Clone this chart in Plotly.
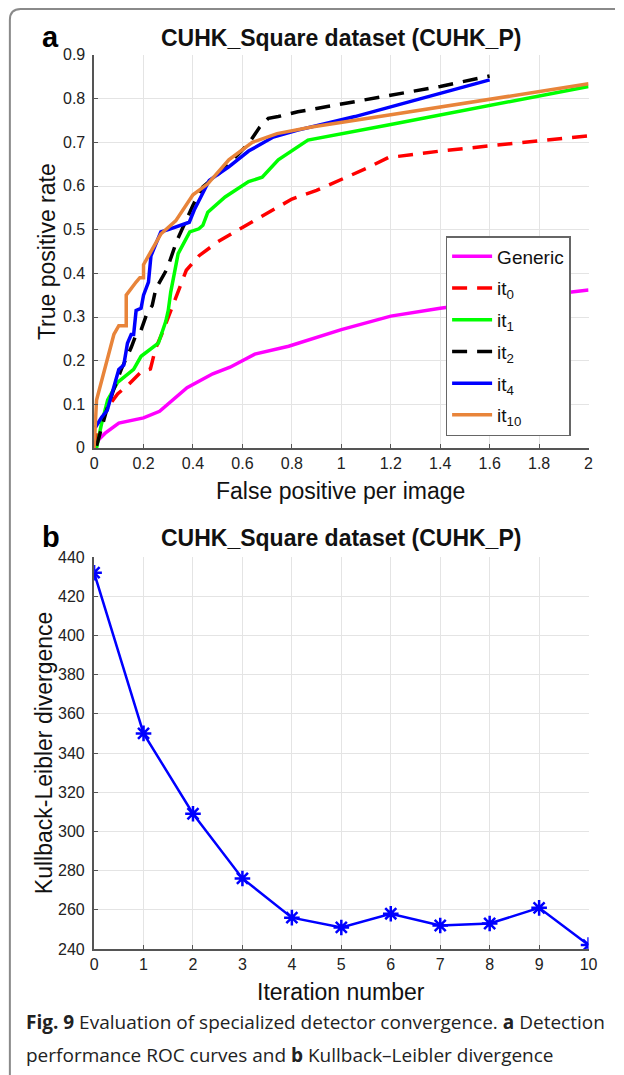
import plotly.graph_objects as go
from plotly.subplots import make_subplots

# ---------------- data ----------------
# panel a : ROC curves
generic_x = [0, 0.02, 0.045, 0.1, 0.2, 0.265, 0.376, 0.48, 0.55, 0.65, 0.787, 0.88, 1.0, 1.2, 1.4, 1.6, 1.8, 2.0]
generic_y = [0, 0.02, 0.034, 0.057, 0.069, 0.084, 0.138, 0.17, 0.185, 0.215, 0.233, 0.25, 0.271, 0.302, 0.32, 0.335, 0.348, 0.362]

it0_x = [0, 0.03, 0.055, 0.095, 0.135, 0.19, 0.228, 0.248, 0.274, 0.30, 0.347, 0.373, 0.426, 0.5, 0.6, 0.7, 0.8, 0.9, 1.0, 1.1, 1.19, 1.4, 1.6, 1.8, 2.0]
it0_y = [0, 0.063, 0.093, 0.124, 0.143, 0.174, 0.181, 0.227, 0.261, 0.30, 0.368, 0.407, 0.441, 0.472, 0.505, 0.537, 0.57, 0.59, 0.615, 0.64, 0.665, 0.68, 0.692, 0.703, 0.715]

it1_x = [0.01, 0.03, 0.055, 0.095, 0.16, 0.19, 0.26, 0.29, 0.30, 0.31, 0.34, 0.387, 0.424, 0.44, 0.46, 0.53, 0.625, 0.68, 0.745, 0.865, 1.2, 1.6, 2.0]
it1_y = [0, 0.055, 0.11, 0.15, 0.18, 0.21, 0.24, 0.29, 0.315, 0.357, 0.445, 0.495, 0.502, 0.51, 0.54, 0.575, 0.61, 0.62, 0.66, 0.705, 0.741, 0.785, 0.828]

it2_x = [0.01, 0.05, 0.08, 0.11, 0.15, 0.17, 0.19, 0.215, 0.235, 0.25, 0.295, 0.335, 0.36, 0.40, 0.44, 0.52, 0.625, 0.67, 0.705, 0.745, 0.824, 1.2, 1.4, 1.6]
it2_y = [0.005, 0.085, 0.135, 0.18, 0.23, 0.26, 0.27, 0.31, 0.326, 0.365, 0.41, 0.475, 0.506, 0.556, 0.598, 0.636, 0.697, 0.735, 0.755, 0.759, 0.77, 0.807, 0.828, 0.852]

it4_x = [0.005, 0.03, 0.053, 0.08, 0.1, 0.12, 0.135, 0.15, 0.16, 0.17, 0.19, 0.2, 0.22, 0.23, 0.27, 0.30, 0.35, 0.385, 0.405, 0.466, 0.545, 0.625, 0.725, 0.824, 1.055, 1.6]
it4_y = [0.047, 0.07, 0.086, 0.14, 0.18, 0.19, 0.24, 0.26, 0.26, 0.315, 0.32, 0.35, 0.38, 0.44, 0.495, 0.50, 0.51, 0.517, 0.545, 0.613, 0.644, 0.68, 0.712, 0.728, 0.759, 0.843]

it10_x = [0, 0.01, 0.08, 0.1, 0.13, 0.13, 0.17, 0.185, 0.2, 0.2, 0.27, 0.33, 0.4, 0.46, 0.545, 0.64, 0.74, 0.88, 1.2, 1.61, 2.0]
it10_y = [0, 0.11, 0.26, 0.28, 0.28, 0.35, 0.38, 0.39, 0.39, 0.42, 0.49, 0.52, 0.58, 0.605, 0.66, 0.70, 0.72, 0.735, 0.763, 0.80, 0.834]

# panel b : KL divergence per iteration
iterations = list(range(11))
kl_div = [432, 350, 309, 276, 256, 251, 258, 252, 253, 261, 242]

roc_xticks = [0, 0.2, 0.4, 0.6, 0.8, 1, 1.2, 1.4, 1.6, 1.8, 2]
roc_yticks = [0, 0.1, 0.2, 0.3, 0.4, 0.5, 0.6, 0.7, 0.8, 0.9]
kl_yticks = [240, 260, 280, 300, 320, 340, 360, 380, 400, 420, 440]

title_text = "CUHK_Square dataset (CUHK_P)"
caption_1 = "<b>Fig. 9</b> Evaluation of specialized detector convergence. <b>a</b> Detection"
caption_2 = "performance ROC curves and <b>b</b> Kullback–Leibler divergence"

# ---------------- figure ----------------
W, H = 624, 1075
def px(x):
    return x / W
def py(y):
    return 1 - y / H

TICKFONT = dict(family="Liberation Sans, Arial", size=16, color="#222")
LABFONT = dict(family="Liberation Sans, Arial", size=23, color="#111")
TITLEFONT = dict(family="Liberation Sans, Arial", size=23, color="#111")

fig = make_subplots(rows=2, cols=1)

roc = [
    ("Generic", generic_x, generic_y, "#ff00ff", "solid"),
    ("it<sub>0</sub>", it0_x, it0_y, "#ff0000", "15px,10px"),
    ("it<sub>1</sub>", it1_x, it1_y, "#00ff00", "solid"),
    ("it<sub>2</sub>", it2_x, it2_y, "#000000", "15px,10px"),
    ("it<sub>4</sub>", it4_x, it4_y, "#0000ff", "solid"),
    ("it<sub>10</sub>", it10_x, it10_y, "#e8843a", "solid"),
]
for name, xs, ys, col, dash in roc:
    fig.add_trace(go.Scatter(x=xs, y=ys, mode="lines", name=name, legendgroup=name,
                             line=dict(color=col, width=3.5, dash=dash)),
                  row=1, col=1)

fig.add_trace(go.Scatter(x=iterations, y=kl_div, mode="lines+markers", showlegend=False,
                         line=dict(color="#0000ff", width=2.5),
                         marker=dict(symbol="asterisk-open", size=13, color="#0000ff",
                                     line=dict(color="#0000ff", width=2.5))),
              row=2, col=1)

axis_common = dict(showgrid=True, gridcolor="#e4e4e4", gridwidth=1,
                   showline=True, linecolor="#555", linewidth=1.5,
                   ticks="inside", ticklen=4, tickcolor="#555",
                   tickfont=TICKFONT, zeroline=False)

fig.update_xaxes(axis_common)
fig.update_yaxes(axis_common)

fig.update_layout(
    xaxis=dict(domain=[px(92), px(597)], range=[0, 2], tickvals=roc_xticks,
               ticktext=[("%g" % v) for v in roc_xticks]),
    yaxis=dict(domain=[py(448), py(55)], range=[0, 0.9], tickvals=roc_yticks,
               showticklabels=False),
    xaxis2=dict(domain=[px(92), px(597)], range=[0, 10], tickvals=iterations),
    yaxis2=dict(domain=[py(949), py(557)], range=[240, 440], tickvals=kl_yticks,
                showticklabels=False),
)

# y tick labels, set a little away from the axis line (MATLAB look)
for v in roc_yticks:
    fig.add_annotation(x=px(85), y=v, xref="paper", yref="y", text="%g" % v,
                       showarrow=False, xanchor="right", yanchor="middle", font=TICKFONT)
for v in kl_yticks:
    fig.add_annotation(x=px(85), y=v, xref="paper", yref="y2", text=str(v),
                       showarrow=False, xanchor="right", yanchor="middle", font=TICKFONT)

annots = [
    dict(x=px(344), y=py(38), text="<b>" + title_text + "</b>", font=TITLEFONT),
    dict(x=px(344), y=py(538), text="<b>" + title_text + "</b>", font=TITLEFONT),
    dict(x=px(47), y=py(37), text="<b>a</b>", font=dict(family="Liberation Sans, Arial", size=29, color="#000")),
    dict(x=px(48), y=py(537), text="<b>b</b>", font=dict(family="Liberation Sans, Arial", size=29, color="#000")),
    dict(x=px(344), y=py(491), text="False positive per image", font=LABFONT),
    dict(x=px(344), y=py(992), text="Iteration number", font=LABFONT),
    dict(x=px(44), y=py(252), text="True positive rate", textangle=-90, font=LABFONT),
    dict(x=px(41), y=py(753), text="Kullback-Leibler divergence", textangle=-90, font=LABFONT),
]
for a in annots:
    a.update(xref="paper", yref="paper", showarrow=False, xanchor="center", yanchor="middle")
    fig.add_annotation(**a)

capfont = dict(family="Open Sans, Noto Sans, sans-serif", size=19, color="#222")
fig.add_annotation(x=px(20), y=py(1022), text=caption_1, xref="paper", yref="paper",
                   showarrow=False, xanchor="left", yanchor="middle", font=capfont)
fig.add_annotation(x=px(20), y=py(1055), text=caption_2, xref="paper", yref="paper",
                   showarrow=False, xanchor="left", yanchor="middle", font=capfont)

# frame around the figure panel
fig.add_shape(type="path", xref="paper", yref="paper",
              path="M %f,%f L %f,%f Q %f,%f %f,%f L %f,%f" % (
                  px(6), py(1075), px(6), py(20), px(6), py(9), px(17), py(9), px(624), py(9)),
              line=dict(color="#8a8a8a", width=2))

fig.update_layout(
    width=W, height=H,
    margin=dict(l=0, r=0, t=0, b=0),
    paper_bgcolor="white", plot_bgcolor="white",
    showlegend=True,
    legend=dict(x=px(451), y=py(236), xanchor="left", yanchor="top",
                bgcolor="white", bordercolor="#666", borderwidth=1.5,
                font=dict(family="Liberation Sans, Arial", size=19, color="#111"),
                tracegroupgap=4, itemwidth=40),
)

fig.write_html("out.html", config={"displayModeBar": False},
               post_script="document.body.style.margin='0';")
